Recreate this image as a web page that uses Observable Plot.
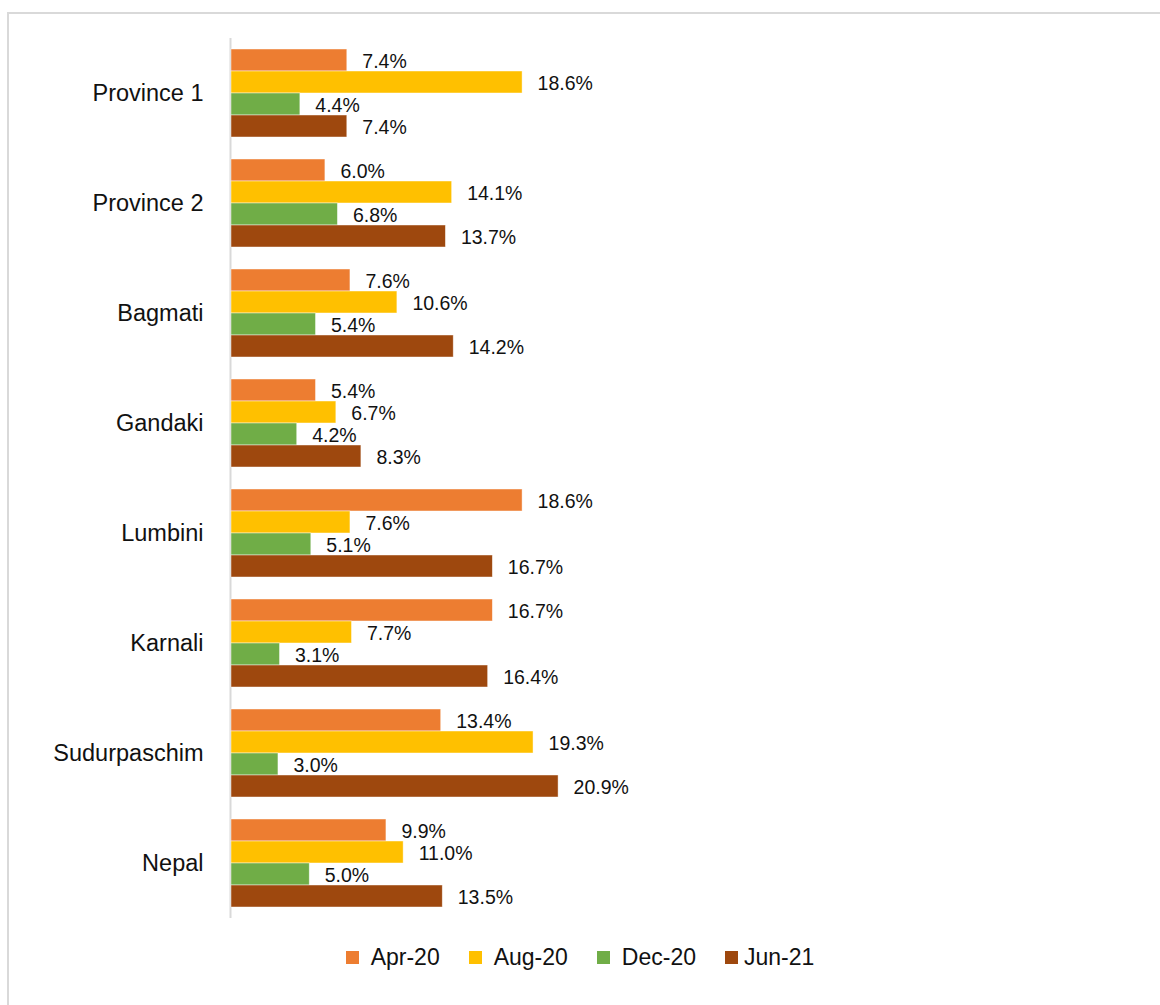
<!DOCTYPE html>
<html><head><meta charset="utf-8">
<script src="https://cdn.jsdelivr.net/npm/d3@7"></script>
<script src="https://cdn.jsdelivr.net/npm/@observablehq/plot@0.6"></script>
<style>
html,body{margin:0;padding:0;background:#fff;overflow:hidden;width:1160px;height:1005px;}
#frame{position:absolute;left:7px;top:12px;width:1200px;height:1100px;border-left:2px solid #d9d9d9;border-top:2px solid #d9d9d9;box-sizing:border-box;}
#chart{position:absolute;left:0;top:0;}
#legend{position:absolute;left:0;width:1160px;top:944px;height:26px;display:flex;justify-content:center;align-items:center;font-family:"Liberation Sans",Arial,sans-serif;font-size:23px;color:#111;}
.item{display:flex;align-items:center;margin-right:29px;line-height:26px;}
.item:last-child{margin-right:0;}
.sw{width:13px;height:13px;margin-right:12px;}
.item:last-child .sw{margin-right:6px;}
</style>
</head><body>
<div id="frame"></div>
<div id="chart"></div>
<div id="legend"></div>
<script>
const categories = ["Province 1","Province 2","Bagmati","Gandaki","Lumbini","Karnali","Sudurpaschim","Nepal"];
const series = ["Apr-20","Aug-20","Dec-20","Jun-21"];
const colors = ["#ED7D31","#FFC000","#70AD47","#9E480E"];
const apr20 = [7.4, 6.0, 7.6, 5.4, 18.6, 16.7, 13.4, 9.9];
const aug20 = [18.6, 14.1, 10.6, 6.7, 7.6, 7.7, 19.3, 11.0];
const dec20 = [4.4, 6.8, 5.4, 4.2, 5.1, 3.1, 3.0, 5.0];
const jun21 = [7.4, 13.7, 14.2, 8.3, 16.7, 16.4, 20.9, 13.5];

const valuesBySeries = [apr20, aug20, dec20, jun21];
const data = [];
categories.forEach((c, i) => {
  series.forEach((s, j) => {
    data.push({category: c, series: s, value: valuesBySeries[j][i]});
  });
});

const chart = Plot.plot({
  width: 1160,
  height: 930,
  marginLeft: 231,
  marginRight: 459.5,
  marginTop: 38,
  marginBottom: 12,
  style: {background: "transparent", fontFamily: "'Liberation Sans', Arial, sans-serif", fontSize: "23.5px", color: "#111"},
  x: {domain: [0, 30], axis: null},
  y: {domain: series, padding: 0, axis: null},
  fy: {domain: categories, padding: 0.2, paddingOuter: 0.1, label: null, tickSize: 0, tickPadding: 28, axis: "left"},
  color: {domain: series, range: colors},
  marks: [
    Plot.ruleX([0], {stroke: "#d9d9d9", strokeWidth: 2, dx: -1, insetTop: -11, insetBottom: -11}),
    Plot.barX(data, {fy: "category", y: "series", x: "value", fill: "series", stroke: "#fff", strokeWidth: 0.75, strokeOpacity: 0.6}),
    Plot.text(data, {fy: "category", y: "series", x: "value", text: d => d.value.toFixed(1) + "%", dx: 15, dy: 1, textAnchor: "start", fontSize: 19.5, fill: "#111"})
  ]
});
document.getElementById("chart").appendChild(chart);

const legend = document.getElementById("legend");
series.forEach((s, j) => {
  const item = document.createElement("div");
  item.className = "item";
  const sw = document.createElement("div");
  sw.className = "sw";
  sw.style.background = colors[j];
  const t = document.createElement("span");
  t.textContent = s;
  item.appendChild(sw);
  item.appendChild(t);
  legend.appendChild(item);
});
</script>
</body></html>
